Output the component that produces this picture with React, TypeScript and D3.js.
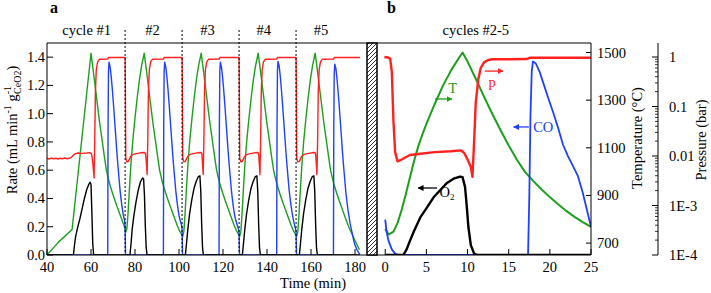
import React from "react";
import * as d3 from "d3";

type P = [number, number];

// ---------- Panel a data (time in min) ----------
const aTemp: P[] = [
  [40, 650], [45, 702], [51.4, 757], [60, 1497], [61, 1425], [62, 1350], [63, 1275], [64, 1200], [65, 1135], [66, 1068], [67, 1005], [68, 965], [69, 932], [70, 903], [71, 876], [72, 850], [73, 824], [74, 799], [75, 774], [75.5, 762],
  [75.8, 745], [76.3, 762], [76.8, 820], [77.3, 900], [77.8, 980], [78.3, 1050], [79, 1130], [80, 1225], [81, 1310], [82, 1385], [83, 1445], [84.2, 1497], [85.2, 1425], [86.2, 1350], [87.2, 1275], [88.2, 1200], [89.2, 1135], [90.2, 1068], [91.2, 1005], [92.2, 965], [93.2, 932], [94.2, 903], [95.2, 876], [96.2, 850], [97.2, 824], [98.2, 799], [99.2, 774], [100.2, 752], [101.2, 736], [101.4, 733],
  [101.7, 728], [102.2, 748], [102.7, 815], [103.2, 898], [103.7, 978], [104.2, 1048], [104.9, 1130], [105.9, 1225], [106.9, 1310], [107.9, 1385], [108.9, 1445], [110.1, 1497], [111.1, 1425], [112.1, 1350], [113.1, 1275], [114.1, 1200], [115.1, 1135], [116.1, 1068], [117.1, 1005], [118.1, 965], [119.1, 932], [120.1, 903], [121.1, 876], [122.1, 850], [123.1, 824], [124.1, 799], [125.1, 774], [126.1, 752], [127.1, 736], [127.3, 733],
  [127.6, 728], [128.1, 748], [128.6, 815], [129.1, 898], [129.6, 978], [130.1, 1048], [130.8, 1130], [131.8, 1225], [132.8, 1310], [133.8, 1385], [134.8, 1445], [136, 1497], [137, 1425], [138, 1350], [139, 1275], [140, 1200], [141, 1135], [142, 1068], [143, 1005], [144, 965], [145, 932], [146, 903], [147, 876], [148, 850], [149, 824], [150, 799], [151, 774], [152, 752], [153, 736], [153.2, 733],
  [153.5, 728], [154, 748], [154.5, 815], [155, 898], [155.5, 978], [156, 1048], [156.7, 1130], [157.7, 1225], [158.7, 1310], [159.7, 1385], [160.7, 1445], [161.9, 1497], [162.9, 1425], [163.9, 1350], [164.9, 1275], [165.9, 1200], [166.9, 1135], [167.9, 1068], [168.9, 1005], [169.9, 965], [170.9, 932], [171.9, 903], [172.9, 876], [173.9, 850], [174.9, 824], [175.9, 799], [176.9, 774], [177.9, 752], [178.9, 733], [179.9, 713], [180.9, 693], [182, 672],
];

const aPressure: P[] = [
  [40, 0.009], [41, 0.0087], [42, 0.0091], [43, 0.0088], [44, 0.0090], [45, 0.0087], [46, 0.0090], [47, 0.0088], [48, 0.0091], [49, 0.0088], [50, 0.0090], [51, 0.0093], [52, 0.0104], [53, 0.0112], [54, 0.0115], [56, 0.0113], [58, 0.0115], [59.5, 0.0117], [60.3, 0.0108], [60.8, 0.0075], [61.4, 0.0036], [61.7, 0.02], [62, 0.2], [62.4, 0.55], [63, 0.8], [63.8, 0.9], [67.6, 0.91], [68, 0.98], [75.5, 0.98],
  [75.6, 0.3], [75.8, 0.009], [76.3, 0.0076], [77, 0.0078], [78, 0.0098], [79, 0.0107], [80.5, 0.0112], [82.5, 0.0116], [84.3, 0.0118], [84.8, 0.011], [85.2, 0.007], [85.5, 0.0042], [85.8, 0.02], [86.1, 0.2], [86.5, 0.55], [87.1, 0.8], [87.9, 0.9], [92.9, 0.91], [93.3, 0.98], [101.4, 0.98],
  [101.5, 0.3], [101.7, 0.009], [102.2, 0.0076], [102.9, 0.0078], [103.9, 0.0098], [104.9, 0.0107], [106.4, 0.0112], [108.4, 0.0116], [110, 0.0118], [110.4, 0.011], [110.7, 0.007], [111, 0.0042], [111.3, 0.02], [111.6, 0.2], [112, 0.55], [112.6, 0.8], [113.4, 0.9], [118.2, 0.91], [118.6, 0.98], [127.3, 0.98],
  [127.4, 0.3], [127.6, 0.009], [128.1, 0.0076], [128.8, 0.0078], [129.8, 0.0098], [130.8, 0.0107], [132.3, 0.0112], [134.3, 0.0116], [135.9, 0.0118], [136.2, 0.011], [136.5, 0.007], [136.8, 0.0042], [137.1, 0.02], [137.4, 0.2], [137.8, 0.55], [138.4, 0.8], [139.2, 0.9], [144.4, 0.91], [144.8, 0.98], [153.2, 0.98],
  [153.3, 0.3], [153.5, 0.009], [154, 0.0076], [154.7, 0.0078], [155.7, 0.0098], [156.7, 0.0107], [158.2, 0.0112], [160.2, 0.0116], [161.8, 0.0118], [162.1, 0.011], [162.4, 0.007], [162.7, 0.0042], [163, 0.02], [163.3, 0.2], [163.7, 0.55], [164.3, 0.8], [165.1, 0.9], [170.2, 0.91], [170.6, 0.98], [182.3, 0.98],
];

const aCO: P[] = [
  [40, 0], [67.6, 0], [67.75, 0.9], [67.95, 1.3], [68.2, 1.365], [68.7, 1.33], [69.2, 1.26], [69.7, 1.17], [70.2, 1.07], [70.7, 0.96], [71.2, 0.85], [71.7, 0.74], [72.2, 0.64], [72.7, 0.55], [73.2, 0.46], [73.7, 0.39], [74.2, 0.33], [74.7, 0.28], [75.3, 0.24], [75.5, 0.2], [75.7, 0],
  [92.9, 0], [93.05, 0.9], [93.25, 1.3], [93.5, 1.365], [94, 1.33], [94.5, 1.26], [95, 1.17], [95.5, 1.07], [96, 0.96], [96.5, 0.85], [97, 0.74], [97.5, 0.64], [98, 0.55], [98.5, 0.46], [99, 0.39], [99.5, 0.33], [100, 0.28], [100.6, 0.24], [101.2, 0.21], [101.4, 0.18], [101.6, 0],
  [118.2, 0], [118.35, 0.9], [118.55, 1.3], [118.8, 1.365], [119.3, 1.33], [119.8, 1.26], [120.3, 1.17], [120.8, 1.07], [121.3, 0.96], [121.8, 0.85], [122.3, 0.74], [122.8, 0.64], [123.3, 0.55], [123.8, 0.46], [124.3, 0.39], [124.8, 0.33], [125.3, 0.28], [125.9, 0.24], [126.5, 0.21], [127.1, 0.18], [127.3, 0.16], [127.5, 0],
  [144.4, 0], [144.55, 0.9], [144.75, 1.3], [145, 1.37], [145.5, 1.34], [146, 1.27], [146.5, 1.18], [147, 1.08], [147.5, 0.97], [148, 0.86], [148.5, 0.75], [149, 0.65], [149.5, 0.56], [150, 0.47], [150.5, 0.4], [151, 0.34], [151.5, 0.29], [152.1, 0.24], [152.7, 0.2], [153.2, 0.17], [153.4, 0],
  [170.2, 0], [170.35, 0.9], [170.55, 1.28], [170.8, 1.35], [171.3, 1.32], [171.8, 1.25], [172.3, 1.16], [172.8, 1.06], [173.3, 0.95], [173.8, 0.84], [174.3, 0.73], [174.8, 0.63], [175.3, 0.54], [175.8, 0.45], [176.3, 0.38], [176.8, 0.32], [177.3, 0.27], [177.8, 0.22], [178.5, 0.17], [179.3, 0.11], [180, 0.07], [180.8, 0.04], [181.5, 0.02], [182.2, 0.005],
];

const aO2: P[] = [
  [40, 0], [52, 0], [52.5, 0.07], [53, 0.13], [54, 0.2], [55, 0.26], [56, 0.33], [57, 0.4], [58, 0.46], [59, 0.5], [59.6, 0.515], [60, 0.5], [60.4, 0.3], [60.8, 0.08], [61.2, 0],
  [77.7, 0], [78.2, 0.08], [78.7, 0.18], [79.5, 0.28], [80.5, 0.38], [81.5, 0.46], [82.5, 0.52], [83.5, 0.545], [83.9, 0.54], [84.3, 0.42], [84.7, 0.2], [85.1, 0.05], [85.5, 0],
  [102.9, 0], [103.4, 0.08], [104, 0.18], [104.8, 0.29], [105.8, 0.39], [106.8, 0.47], [107.8, 0.52], [108.8, 0.555], [109.5, 0.56], [109.9, 0.45], [110.3, 0.22], [110.7, 0.05], [111.1, 0],
  [128.8, 0], [129.3, 0.08], [129.9, 0.18], [130.7, 0.29], [131.7, 0.39], [132.7, 0.47], [133.7, 0.52], [134.7, 0.555], [135.4, 0.56], [135.8, 0.45], [136.2, 0.22], [136.6, 0.05], [137, 0],
  [154.7, 0], [155.2, 0.08], [155.8, 0.18], [156.6, 0.29], [157.6, 0.39], [158.6, 0.47], [159.6, 0.52], [160.6, 0.555], [161.3, 0.56], [161.7, 0.45], [162.1, 0.22], [162.5, 0.05], [162.9, 0], [182, 0],
];

const cycleBounds = [75.5, 101.4, 127.3, 153.2];
const cycleLabels = ["cycle #1", "#2", "#3", "#4", "#5"];
const cycleLabelTimes = [58, 88, 113, 138.5, 164.5];

// ---------- Panel b data (time in min, cycles #2-5 overlaid) ----------
const bTemp: P[] = [
  [0, 760], [0.4, 736], [1, 748], [1.5, 785], [2, 840], [2.5, 905], [3, 975], [3.5, 1045], [4, 1105], [4.5, 1155], [5, 1200], [6, 1283], [7, 1360], [8, 1425], [9, 1480], [9.4, 1500],
  [10, 1462], [11, 1390], [12, 1315], [13, 1243], [14, 1175], [15, 1110], [16, 1050], [17, 998], [18, 960], [19, 925], [20, 893], [21, 863], [22, 835], [23, 810], [24, 788], [25, 768],
];
const bPressure: P[] = [
  [-0.1, 1.0], [0.3, 0.98], [0.6, 0.93], [0.8, 0.5], [1.0, 0.05], [1.2, 0.012], [1.5, 0.0078], [2, 0.0085], [3, 0.0105], [4, 0.011], [6, 0.012], [8, 0.0125], [9.2, 0.013], [9.6, 0.0115], [10, 0.0085], [10.4, 0.006], [10.6, 0.0038], [10.8, 0.02], [11.0, 0.12], [11.3, 0.35], [11.6, 0.6], [12, 0.78], [12.5, 0.87], [13, 0.9], [15, 0.9], [17.2, 0.91], [17.6, 0.97], [25, 0.97],
];
const bCO: P[] = [
  [0, 0.25], [0.15, 0.17], [0.4, 0.1], [0.8, 0.04], [1.2, 0.01], [1.6, 0], [17.35, 0], [17.5, 0.4], [17.65, 1.0], [17.8, 1.3], [17.95, 1.37], [18.3, 1.355], [18.8, 1.29], [19.3, 1.2], [19.75, 1.12], [20.4, 1.01], [21, 0.9], [21.6, 0.78], [22.2, 0.7], [22.8, 0.63], [23.4, 0.56], [24, 0.44], [24.5, 0.32], [25, 0.2],
];
const bO2: P[] = [
  [0, 0], [2.2, 0], [2.6, 0.04], [3, 0.1], [3.5, 0.17], [4.3, 0.27], [5, 0.33], [5.9, 0.41], [6.7, 0.46], [7.5, 0.51], [8.3, 0.54], [9.1, 0.555], [9.4, 0.55], [9.7, 0.48], [9.9, 0.35], [10.1, 0.2], [10.4, 0.07], [10.8, 0.01], [11.2, 0], [25, 0],
];

// ---------- ticks ----------
const rateTicks = [0, 0.2, 0.4, 0.6, 0.8, 1.0, 1.2, 1.4];
const timeTicksA = [40, 60, 80, 100, 120, 140, 160, 180];
const timeTicksB = [0, 5, 10, 15, 20, 25];
const tempTicks = [700, 900, 1100, 1300, 1500];
const pressTicks = [1e-4, 1e-3, 0.01, 0.1, 1];
const pressLabels = ["1E-4", "1E-3", "0.01", "0.1", "1"];

const RED = "#ff2020";
const GREEN = "#1e9e1e";
const BLUE = "#2040ff";
const BLACK = "#000";
const FONT = "'Liberation Serif', 'Times New Roman', serif";

export default function App() {
  const top = 43, bottom = 255;
  const xA = d3.scaleLinear().domain([40, 185.45]).range([47, 367]);
  const xB = d3.scaleLinear().domain([-1, 25]).range([377, 591]);
  const yRate = d3.scaleLinear().domain([0, 1.5]).range([bottom, top]);
  const yT = d3.scaleLinear().domain([650, 1540]).range([bottom, top]);
  const yP = d3.scaleLog().domain([1e-4, 1.92]).range([bottom, top]);

  const mk = (x: (v: number) => number, y: (v: number) => number) =>
    d3.line<P>().x((d) => x(d[0])).y((d) => y(d[1]));

  const minorP: number[] = [];
  for (let e = -4; e <= 0; e++) for (let m = 2; m <= 9; m++) { const v = m * Math.pow(10, e); if (v < 1.92) minorP.push(v); }

  const hatch: number[] = d3.range(top - 20, bottom + 20, 4);

  return (
    <svg width={711} height={293} style={{ display: "block", position: "absolute", left: 0, top: 0 }} fontFamily={FONT}>
      <defs>
        <clipPath id="clipA"><rect x={47} y={top} width={320} height={bottom - top} /></clipPath>
        <clipPath id="clipB"><rect x={377} y={top} width={214} height={bottom - top} /></clipPath>
        <clipPath id="clipH"><rect x={367} y={top} width={10} height={bottom - top} /></clipPath>
        {[["aG", GREEN], ["aR", RED], ["aB", BLUE], ["aK", BLACK]].map(([id, c]) => (
          <marker key={id} id={id} viewBox="0 0 10 10" refX={9} refY={5} markerWidth={6} markerHeight={6} markerUnits="userSpaceOnUse" orient="auto">
            <path d="M0,0 L10,5 L0,10 z" fill={c} />
          </marker>
        ))}
      </defs>
      <rect width={711} height={293} fill="#fff" />

      {/* panel a lines */}
      <g clipPath="url(#clipA)" fill="none" strokeLinejoin="round">
        <path d={mk(xA, yT)(aTemp) || ""} stroke={GREEN} strokeWidth={1.4} />
        <path d={mk(xA, yP)(aPressure) || ""} stroke={RED} strokeWidth={1.4} />
        <path d={mk(xA, yRate)(aCO) || ""} stroke={BLUE} strokeWidth={1.4} />
        <path d={mk(xA, yRate)(aO2) || ""} stroke={BLACK} strokeWidth={1.4} />
      </g>

      {/* panel b lines */}
      <g clipPath="url(#clipB)" fill="none" strokeLinejoin="round">
        <path d={mk(xB, yT)(bTemp) || ""} stroke={GREEN} strokeWidth={2} />
        <path d={mk(xB, yP)(bPressure) || ""} stroke={RED} strokeWidth={2.4} />
        <path d={mk(xB, yRate)(bCO) || ""} stroke={BLUE} strokeWidth={1.8} />
        <path d={mk(xB, yRate)(bO2) || ""} stroke={BLACK} strokeWidth={2.4} />
      </g>

      {/* cycle separators */}
      {cycleBounds.map((t) => (
        <line key={t} x1={xA(t)} x2={xA(t)} y1={30} y2={bottom} stroke="#000" strokeWidth={1} strokeDasharray="2,2" />
      ))}
      {cycleLabels.map((s, i) => (
        <text key={s} x={xA(cycleLabelTimes[i])} y={35} fontSize={14.5} textAnchor="middle">{s}</text>
      ))}
      <text x={xB(11)} y={35} fontSize={14.5} textAnchor="middle">cycles #2-5</text>

      {/* frame */}
      <line x1={47} x2={591} y1={top} y2={top} stroke="#000" />
      <line x1={47} x2={591} y1={bottom} y2={bottom} stroke="#000" />
      <line x1={47} x2={47} y1={top} y2={bottom} stroke="#000" />
      <line x1={591} x2={591} y1={top} y2={bottom} stroke="#000" />

      {/* hatch */}
      <rect x={367} y={top} width={10} height={bottom - top} fill="#fff" stroke="#000" />
      <g clipPath="url(#clipH)">
        {hatch.map((y0) => (
          <line key={y0} x1={367} y1={y0 + 10} x2={377} y2={y0} stroke="#000" strokeWidth={0.8} />
        ))}
      </g>
      <rect x={367} y={top} width={10} height={bottom - top} fill="none" stroke="#000" />

      {/* rate axis */}
      {rateTicks.map((v) => (
        <g key={v}>
          <line x1={47} x2={53} y1={yRate(v)} y2={yRate(v)} stroke="#000" />
          <text x={45} y={yRate(v) + 5} fontSize={14.5} textAnchor="end">{v.toFixed(1)}</text>
        </g>
      ))}
      {timeTicksA.map((v) => (
        <g key={v}>
          <line x1={xA(v)} x2={xA(v)} y1={bottom} y2={bottom - 6} stroke="#000" />
          <text x={xA(v)} y={272} fontSize={14.5} textAnchor="middle">{v}</text>
        </g>
      ))}
      {timeTicksB.map((v) => (
        <g key={v}>
          <line x1={xB(v)} x2={xB(v)} y1={bottom} y2={bottom - 6} stroke="#000" />
          <text x={xB(v)} y={272} fontSize={14.5} textAnchor="middle">{v}</text>
        </g>
      ))}
      <text x={313} y={288} fontSize={14.5} textAnchor="middle">Time (min)</text>

      {/* temperature axis */}
      {tempTicks.map((v) => (
        <g key={v}>
          <line x1={586} x2={591} y1={yT(v)} y2={yT(v)} stroke="#000" />
          <text x={597} y={yT(v) + 5} fontSize={14.5}>{v}</text>
        </g>
      ))}

      {/* pressure axis */}
      <line x1={658} x2={658} y1={top} y2={bottom} stroke="#000" />
      {pressTicks.map((v, i) => (
        <g key={v}>
          <line x1={652} x2={658} y1={yP(v)} y2={yP(v)} stroke="#000" />
          <text x={669} y={yP(v) + 5} fontSize={14.5}>{pressLabels[i]}</text>
        </g>
      ))}
      {minorP.map((v) => (
        <line key={v} x1={655} x2={658} y1={yP(v)} y2={yP(v)} stroke="#000" strokeWidth={0.8} />
      ))}

      {/* axis titles */}
      <text transform="translate(17,130) rotate(-90)" fontSize={14.5} textAnchor="middle">
        Rate (mL min<tspan dy={-6} fontSize={10}>-1</tspan><tspan dy={6}> g</tspan><tspan dy={-6} fontSize={10}>-1</tspan><tspan dx={-8} dy={10} fontSize={10}>CeO2</tspan><tspan dy={-4}>)</tspan>
      </text>
      <text transform="translate(642,138) rotate(-90)" fontSize={14.5} textAnchor="middle">Temperature (°C)</text>
      <text transform="translate(706,140) rotate(-90)" fontSize={14.5} textAnchor="middle">Pressure (bar)</text>

      {/* panel letters */}
      <text x={50} y={13} fontSize={16} fontWeight="bold">a</text>
      <text x={387} y={13} fontSize={16} fontWeight="bold">b</text>

      {/* annotations */}
      <line x1={xB(6.05)} x2={xB(8.1)} y1={yT(1305)} y2={yT(1305)} stroke={GREEN} strokeWidth={1.3} markerEnd="url(#aG)" />
      <text x={xB(8.2)} y={yT(1330)} fontSize={14.5} fill={GREEN} textAnchor="middle">T</text>
      <line x1={xB(12.1)} x2={xB(14.3)} y1={yP(0.52)} y2={yP(0.52)} stroke={RED} strokeWidth={1.3} markerEnd="url(#aR)" />
      <text x={xB(13)} y={yP(0.25)} fontSize={14.5} fill={RED} textAnchor="middle">p</text>
      <line x1={xB(17.45)} x2={xB(15.6)} y1={yRate(0.906)} y2={yRate(0.906)} stroke={BLUE} strokeWidth={1.3} markerEnd="url(#aB)" />
      <text x={xB(19.2)} y={yRate(0.87)} fontSize={14.5} fill={BLUE} textAnchor="middle">CO</text>
      <line x1={xB(6.3)} x2={xB(4.0)} y1={yRate(0.474)} y2={yRate(0.474)} stroke={BLACK} strokeWidth={1.3} markerEnd="url(#aK)" />
      <text x={xB(7.5)} y={yRate(0.41)} fontSize={14.5} fill={BLACK} textAnchor="middle">O<tspan dy={3} fontSize={9}>2</tspan></text>
    </svg>
  );
}
